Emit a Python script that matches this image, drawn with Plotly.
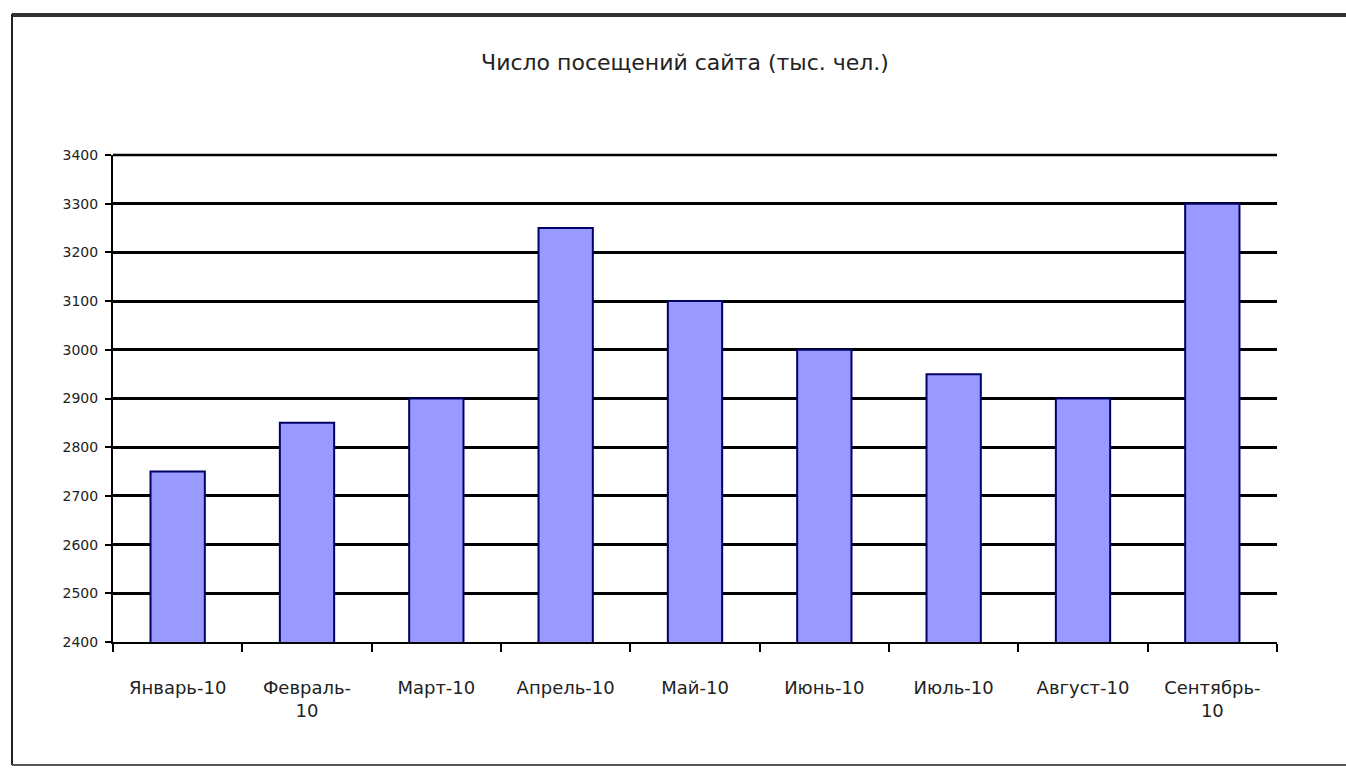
import plotly.graph_objects as go

categories = ["Январь-10", "Февраль-<br>10", "Март-10", "Апрель-10", "Май-10",
              "Июнь-10", "Июль-10", "Август-10", "Сентябрь-<br>10"]
values = [2750, 2850, 2900, 3250, 3100, 3000, 2950, 2900, 3300]
y_ticks = [2400, 2500, 2600, 2700, 2800, 2900, 3000, 3100, 3200, 3300, 3400]
title_text = "Число посещений сайта (тыс. чел.)"

FONT = "DejaVu Sans"

fig = go.Figure()
fig.add_trace(go.Bar(
    x=categories, y=values,
    marker=dict(color="#9999FF", line=dict(color="#000066", width=2)),
    width=0.42,
))

L, R, T, B = 113, 69, 155, 126
W, H = 1346, 768
pw, ph = W - L - R, H - T - B

def px_x(x):
    return (x - L) / pw

def px_y(y):
    return (H - B - y) / ph

fig.update_layout(
    width=W, height=H,
    margin=dict(l=L, r=R, t=T, b=B),
    paper_bgcolor="white", plot_bgcolor="white",
    showlegend=False,
    title=dict(text=title_text, x=(685) / W, xanchor="center",
               y=1 - 62 / H, yanchor="middle",
               font=dict(family=FONT, size=22, color="#222222")),
    font=dict(family=FONT, color="#222222"),
    bargap=0.58,
    shapes=[
        dict(type="line", xref="paper", yref="paper",
             x0=0, x1=1, y0=1, y1=1,
             line=dict(color="black", width=2.5)),
        dict(type="line", xref="paper", yref="paper",
             x0=px_x(12), x1=px_x(1350), y0=px_y(15), y1=px_y(15),
             line=dict(color="#333333", width=4)),
        dict(type="line", xref="paper", yref="paper",
             x0=px_x(12), x1=px_x(12), y0=px_y(14), y1=px_y(765),
             line=dict(color="#222222", width=2)),
        dict(type="line", xref="paper", yref="paper",
             x0=px_x(12), x1=px_x(1350), y0=px_y(765), y1=px_y(765),
             line=dict(color="#555555", width=2)),
    ],
)

fig.update_yaxes(
    range=[2400, 3400], tickvals=y_ticks,
    showgrid=True, gridcolor="black", gridwidth=2.5,
    showline=True, linecolor="black", linewidth=2,
    ticks="outside", ticklen=6, tickcolor="black", tickwidth=2,
    ticklabelstandoff=4,
    tickfont=dict(family=FONT, size=14, color="#222222"),
    zeroline=False,
)
fig.update_xaxes(
    showline=True, linecolor="black", linewidth=2,
    ticks="outside", tickson="boundaries", ticklen=8, tickcolor="black", tickwidth=2,
    ticklabelstandoff=28,
    tickfont=dict(family=FONT, size=18, color="#222222"),
    tickangle=0,
)

fig.write_html("out.html", config={"displayModeBar": False},
               post_script="document.body.style.margin='0';")
